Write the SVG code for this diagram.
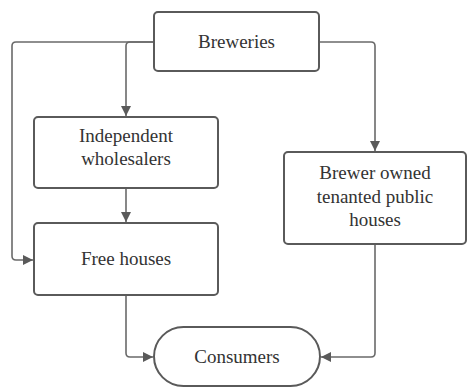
<svg xmlns="http://www.w3.org/2000/svg" width="467" height="387" viewBox="0 0 467 387">
<style>
.box{fill:#fff;stroke:#5a5a5a;stroke-width:2}
.ln{fill:none;stroke:#6a6a6a;stroke-width:1.6}
.t{font-family:'Liberation Serif','DejaVu Serif',serif;font-size:19px;fill:#333;text-anchor:middle}
</style>
<defs>
<marker id="ah" viewBox="0 0 10 10" refX="10" refY="5" markerWidth="10" markerHeight="10" markerUnits="userSpaceOnUse" orient="auto">
<path d="M0,0 L10,5 L0,10 Z" fill="#5a5a5a"/>
</marker>
</defs>
<rect width="467" height="387" fill="#fff"/>
<g id="connectors">
<path class="ln" d="M154,42 H16 Q12,42 12,46 V256 Q12,260 16,260 H33" marker-end="url(#ah)"/>
<path class="ln" d="M154,42 H130 Q126,42 126,46 V116" marker-end="url(#ah)"/>
<path class="ln" d="M126,188 V222" marker-end="url(#ah)"/>
<path class="ln" d="M126,295 V353 Q126,357 130,357 H153" marker-end="url(#ah)"/>
<path class="ln" d="M319,42 H371 Q375,42 375,46 V151" marker-end="url(#ah)"/>
<path class="ln" d="M375,244 V353 Q375,357 371,357 H321" marker-end="url(#ah)"/>
</g>
<g id="breweries">
<rect class="box" x="154" y="12" width="165" height="59" rx="4"/>
<text class="t" font-family="Liberation Serif, serif" x="236.5" y="48">Breweries</text>
</g>
<g id="wholesalers">
<rect class="box" x="34" y="117" width="184" height="71" rx="4"/>
<text class="t" font-family="Liberation Serif, serif" x="126" y="142">Independent</text>
<text class="t" font-family="Liberation Serif, serif" x="126" y="165">wholesalers</text>
</g>
<g id="freehouses">
<rect class="box" x="34" y="223" width="184" height="72" rx="4"/>
<text class="t" font-family="Liberation Serif, serif" x="126" y="265">Free houses</text>
</g>
<g id="brewerowned">
<rect class="box" x="284" y="152" width="182" height="92" rx="4"/>
<text class="t" font-family="Liberation Serif, serif" x="375" y="179">Brewer owned</text>
<text class="t" font-family="Liberation Serif, serif" x="375" y="203">tenanted public</text>
<text class="t" font-family="Liberation Serif, serif" x="375" y="226">houses</text>
</g>
<g id="consumers">
<rect class="box" x="154" y="327" width="166" height="59" rx="29.5"/>
<text class="t" font-family="Liberation Serif, serif" x="237" y="363">Consumers</text>
</g>
</svg>
